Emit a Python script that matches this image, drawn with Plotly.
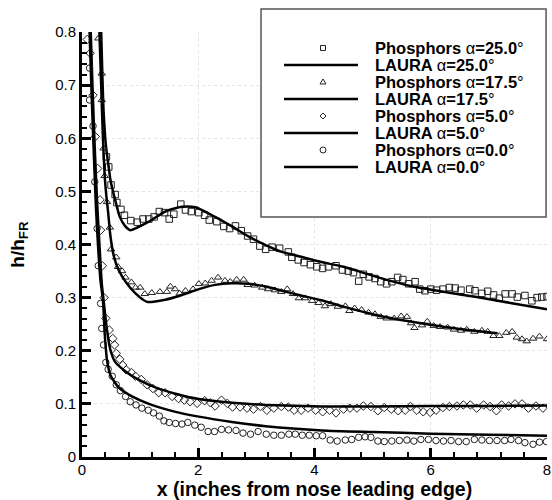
import plotly.graph_objects as go

# ---------------- data ----------------
sq_x = [0.42,0.46,0.50,0.57,0.60,0.67,0.73,0.84,0.95,1.05,1.15,1.24,1.33,1.42,1.50,1.58,1.70,1.78,1.88,2.01,
        2.11,2.19,2.32,2.44,2.54,2.64,2.74,2.85,2.95,3.06,3.16,3.27,3.40,3.55,3.61,3.72,3.82,3.93,4.04,4.14,
        4.24,4.37,4.48,4.58,4.67,4.76,4.84,4.94,5.04,5.14,5.24,5.33,5.43,5.52,5.62,5.73,5.81,5.90,6.00,6.10,
        6.21,6.32,6.42,6.52,6.67,6.76,6.88,6.98,7.08,7.18,7.28,7.40,7.49,7.62,7.74,7.83,7.91,8.00]
sq_y = [0.565,0.546,0.512,0.494,0.479,0.466,0.455,0.445,0.442,0.448,0.448,0.452,0.462,0.460,0.448,0.457,0.476,0.465,0.462,0.460,
        0.455,0.446,0.443,0.434,0.430,0.435,0.426,0.416,0.410,0.397,0.391,0.395,0.393,0.386,0.376,0.371,0.366,0.362,0.358,0.355,
        0.358,0.360,0.352,0.350,0.347,0.331,0.344,0.339,0.336,0.330,0.326,0.330,0.338,0.334,0.326,0.330,0.316,0.313,0.316,0.314,
        0.316,0.319,0.318,0.314,0.316,0.313,0.308,0.312,0.305,0.299,0.307,0.307,0.301,0.304,0.294,0.300,0.301,0.302]

tri_x = [0.28,0.34,0.34,0.37,0.39,0.43,0.48,0.50,0.59,0.62,0.69,0.75,0.85,0.92,1.00,1.08,1.20,1.34,1.46,1.52,
         1.60,1.68,1.78,1.91,2.01,2.12,2.23,2.34,2.46,2.55,2.66,2.78,2.85,2.97,3.10,3.20,3.32,3.43,3.53,3.63,
         3.73,3.84,3.96,4.07,4.18,4.28,4.40,4.53,4.60,4.69,4.81,4.93,5.04,5.14,5.24,5.37,5.49,5.59,5.66,5.72,
         5.85,5.94,6.05,6.16,6.29,6.40,6.52,6.62,6.75,6.88,6.98,7.08,7.18,7.30,7.40,7.48,7.57,7.65,7.76,7.87,8.00]
tri_y = [0.788,0.722,0.672,0.581,0.529,0.480,0.432,0.391,0.376,0.358,0.350,0.338,0.329,0.319,0.319,0.307,0.309,0.311,0.311,0.321,
         0.316,0.308,0.313,0.316,0.326,0.327,0.332,0.338,0.332,0.330,0.334,0.334,0.324,0.323,0.319,0.316,0.314,0.311,0.316,0.307,
         0.299,0.299,0.294,0.290,0.284,0.288,0.283,0.284,0.275,0.280,0.277,0.272,0.269,0.264,0.261,0.261,0.265,0.264,0.252,0.243,
         0.248,0.255,0.247,0.245,0.244,0.240,0.238,0.240,0.236,0.238,0.236,0.228,0.228,0.234,0.236,0.225,0.222,0.218,0.223,0.227,0.222]

dia_x = [0.09,0.14,0.19,0.23,0.27,0.31,0.32,0.35,0.38,0.41,0.47,0.53,0.56,0.59,0.65,0.70,0.76,0.85,0.92,1.02,
         1.12,1.22,1.32,1.43,1.55,1.66,1.76,1.86,1.98,2.11,2.21,2.29,2.40,2.50,2.59,2.72,2.84,2.95,3.07,3.18,
         3.30,3.43,3.55,3.65,3.77,3.89,4.02,4.14,4.26,4.37,4.50,4.61,4.73,4.84,4.97,5.09,5.20,5.32,5.44,5.56,
         5.65,5.76,5.87,5.99,6.09,6.21,6.32,6.45,6.56,6.68,6.79,6.91,7.02,7.13,7.22,7.34,7.45,7.57,7.68,7.81,7.93]
dia_y = [0.786,0.760,0.681,0.603,0.543,0.484,0.427,0.360,0.300,0.261,0.239,0.223,0.211,0.195,0.184,0.173,0.164,0.159,0.152,0.146,
         0.136,0.129,0.121,0.121,0.114,0.110,0.107,0.104,0.101,0.106,0.102,0.096,0.107,0.101,0.094,0.094,0.092,0.090,0.095,0.088,
         0.092,0.095,0.094,0.088,0.088,0.092,0.088,0.085,0.088,0.083,0.090,0.092,0.092,0.096,0.095,0.087,0.093,0.090,0.087,0.088,
         0.095,0.088,0.085,0.084,0.088,0.093,0.095,0.096,0.098,0.098,0.092,0.098,0.095,0.087,0.098,0.096,0.100,0.100,0.092,0.096,0.092]

cir_x = [0.13,0.13,0.19,0.22,0.26,0.28,0.32,0.34,0.37,0.41,0.45,0.52,0.59,0.66,0.75,0.83,0.93,1.03,1.14,1.23,
         1.33,1.41,1.50,1.61,1.72,1.82,1.94,2.05,2.17,2.28,2.40,2.52,2.65,2.77,2.90,3.03,3.17,3.30,3.43,3.56,
         3.67,3.79,3.91,4.03,4.14,4.27,4.39,4.53,4.64,4.76,4.87,4.97,5.09,5.20,5.33,5.46,5.59,5.71,5.83,5.96,
         6.09,6.22,6.35,6.48,6.61,6.75,6.88,7.01,7.14,7.27,7.38,7.51,7.62,7.76,7.87,7.99]
cir_y = [0.732,0.672,0.623,0.518,0.430,0.360,0.289,0.242,0.211,0.178,0.165,0.152,0.136,0.125,0.114,0.104,0.098,0.092,0.088,0.083,
         0.077,0.068,0.065,0.063,0.062,0.065,0.060,0.056,0.048,0.048,0.052,0.051,0.050,0.045,0.043,0.048,0.043,0.041,0.041,0.043,
         0.043,0.041,0.041,0.040,0.040,0.032,0.030,0.032,0.033,0.037,0.038,0.037,0.030,0.029,0.030,0.031,0.032,0.030,0.033,0.033,
         0.031,0.030,0.031,0.029,0.029,0.033,0.032,0.031,0.031,0.031,0.033,0.031,0.027,0.024,0.028,0.029]

l25_x = [0.33,0.35,0.37,0.40,0.42,0.46,0.49,0.57,0.65,0.74,0.83,0.95,1.15,1.43,1.72,1.95,2.29,2.58,2.87,3.16,
         3.44,3.73,4.12,4.50,5.07,5.65,6.22,6.79,7.37,8.00]
l25_y = [0.800,0.720,0.653,0.600,0.578,0.545,0.521,0.484,0.452,0.435,0.427,0.432,0.443,0.462,0.471,0.470,0.452,0.434,0.415,0.399,
         0.386,0.378,0.367,0.358,0.339,0.322,0.311,0.301,0.290,0.278]

l175_x = [0.30,0.33,0.36,0.39,0.42,0.45,0.49,0.55,0.63,0.75,0.92,1.12,1.43,1.72,2.01,2.29,2.58,2.87,3.16,3.44,
          3.73,4.12,4.50,5.07,5.65,6.22,6.79,7.15]
l175_y = [0.800,0.700,0.600,0.530,0.490,0.460,0.415,0.377,0.352,0.330,0.308,0.292,0.296,0.305,0.316,0.324,0.327,0.326,0.321,0.313,
          0.305,0.295,0.283,0.267,0.255,0.245,0.237,0.233]

l5_x = [0.15,0.18,0.22,0.26,0.30,0.34,0.37,0.43,0.49,0.57,0.75,0.98,1.26,1.61,2.01,2.58,3.16,4.13,5.00,6.00,7.00,8.00]
l5_y = [0.800,0.700,0.580,0.480,0.400,0.327,0.296,0.239,0.201,0.179,0.161,0.145,0.131,0.119,0.109,0.102,0.098,0.095,0.095,0.096,0.096,0.097]

l0_x = [0.13,0.16,0.20,0.24,0.28,0.32,0.36,0.39,0.43,0.49,0.63,0.86,1.15,1.61,2.01,2.58,3.16,4.13,5.00,6.00,7.00,8.00]
l0_y = [0.800,0.700,0.580,0.470,0.390,0.330,0.296,0.233,0.183,0.154,0.131,0.114,0.100,0.085,0.076,0.066,0.058,0.050,0.047,0.044,0.042,0.040]

angles = ["25.0", "17.5", "5.0", "0.0"]
x_ticks = [0, 2, 4, 6, 8]
y_ticks = [0, 0.1, 0.2, 0.3, 0.4, 0.5, 0.6, 0.7, 0.8]

# ---------------- figure ----------------
FONT = "Liberation Sans, Arial, Helvetica, sans-serif"
fig = go.Figure()

series = [
    (sq_x, sq_y, "square-open", l25_x, l25_y),
    (tri_x, tri_y, "triangle-up-open", l175_x, l175_y),
    (dia_x, dia_y, "diamond-open", l5_x, l5_y),
    (cir_x, cir_y, "circle-open", l0_x, l0_y),
]

for (mx, my, sym, lx, ly), ang in zip(series, angles):
    fig.add_trace(go.Scatter(
        x=mx, y=my, mode="markers", name=f"Phosphors α={ang}°", showlegend=False,
        marker=dict(symbol=sym, size=6.5, color="#222", line=dict(width=1, color="#222"))))
    fig.add_trace(go.Scatter(
        x=lx, y=ly, mode="lines", name=f"LAURA α={ang}°", showlegend=False,
        line=dict(color="black", width=2.5, shape="spline", smoothing=0.6)))

# ---------------- manual legend (box, samples, labels) ----------------
shapes = [dict(type="rect", xref="paper", yref="paper", x0=0.385, x1=0.998, y0=0.565, y1=1.054,
               line=dict(color="#555", width=1.5), fillcolor="white", layer="above")]
annotations = []
row_top = 0.9624
row_step = 0.04
mk_x = 0.5183
ln_x0, ln_x1 = 0.4344, 0.5935
txt_x = 0.6258
marker_shapes = {
    "square-open": dict(type="rect", x0=-2.5, x1=2.5, y0=-2.5, y1=2.5),
    "triangle-up-open": dict(type="path", path="M-3,-2 L3,-2 L0,3 Z"),
    "diamond-open": dict(type="path", path="M0,-3 L3,0 L0,3 L-3,0 Z"),
    "circle-open": dict(type="circle", x0=-3, x1=3, y0=-3, y1=3),
}
for i, ((mx, my, sym, lx, ly), ang) in enumerate(zip(series, angles)):
    yp = row_top - (2 * i) * row_step
    yl = row_top - (2 * i + 1) * row_step
    ms = dict(marker_shapes[sym])
    ms.update(xref="paper", yref="paper", xsizemode="pixel", ysizemode="pixel",
              xanchor=mk_x, yanchor=yp, line=dict(color="#222", width=1), layer="above")
    shapes.append(ms)
    shapes.append(dict(type="line", xref="paper", yref="paper", x0=ln_x0, x1=ln_x1, y0=yl, y1=yl,
                       line=dict(color="black", width=2.5), layer="above"))
    for yy, pre in ((yp, "Phosphors "), (yl, "LAURA ")):
        annotations.append(dict(
            xref="paper", yref="paper", x=txt_x, y=yy, xanchor="left", yanchor="middle",
            showarrow=False, text=f"<b>{pre}</b>α<b>={ang}</b>°",
            font=dict(family=FONT, size=16.5, color="black")))

axis_common = dict(
    showline=True, linewidth=3, linecolor="black", mirror=False, automargin=False,
    ticks="inside", tickwidth=3, tickcolor="black", ticklen=9,
    showgrid=True, gridcolor="#e4e4e4", griddash="dot", gridwidth=1,
    zeroline=False, tickfont=dict(family=FONT, size=15, color="black"),
)

fig.update_layout(
    width=552, height=500,
    margin=dict(l=82, r=5, t=32, b=43),
    paper_bgcolor="white", plot_bgcolor="white",
    showlegend=False,
    shapes=shapes, annotations=annotations,
    xaxis=dict(range=[0, 8], tickvals=x_ticks, **axis_common, ticklabelstandoff=-3,
               minor=dict(dtick=0.4, tick0=0, ticks="inside", ticklen=5, tickwidth=1.5,
                          tickcolor="black", showgrid=False),
               title=dict(text="<b>x (inches from nose leading edge)</b>",
                          font=dict(family=FONT, size=19.5, color="black"), standoff=9)),
    yaxis=dict(range=[0, 0.8], tickvals=y_ticks, ticktext=[f"{v:g}" for v in y_ticks], **axis_common,
               minor=dict(dtick=0.02, tick0=0, ticks="inside", ticklen=5, tickwidth=1.5,
                          tickcolor="black", showgrid=False),
               title=dict(text="<b>h/h<sub>FR</sub></b>",
                          font=dict(family=FONT, size=19, color="black"), standoff=26)),
)

fig.write_html("out.html", config={"displayModeBar": False},
               post_script="document.body.style.margin='0';document.body.style.overflow='hidden';")
